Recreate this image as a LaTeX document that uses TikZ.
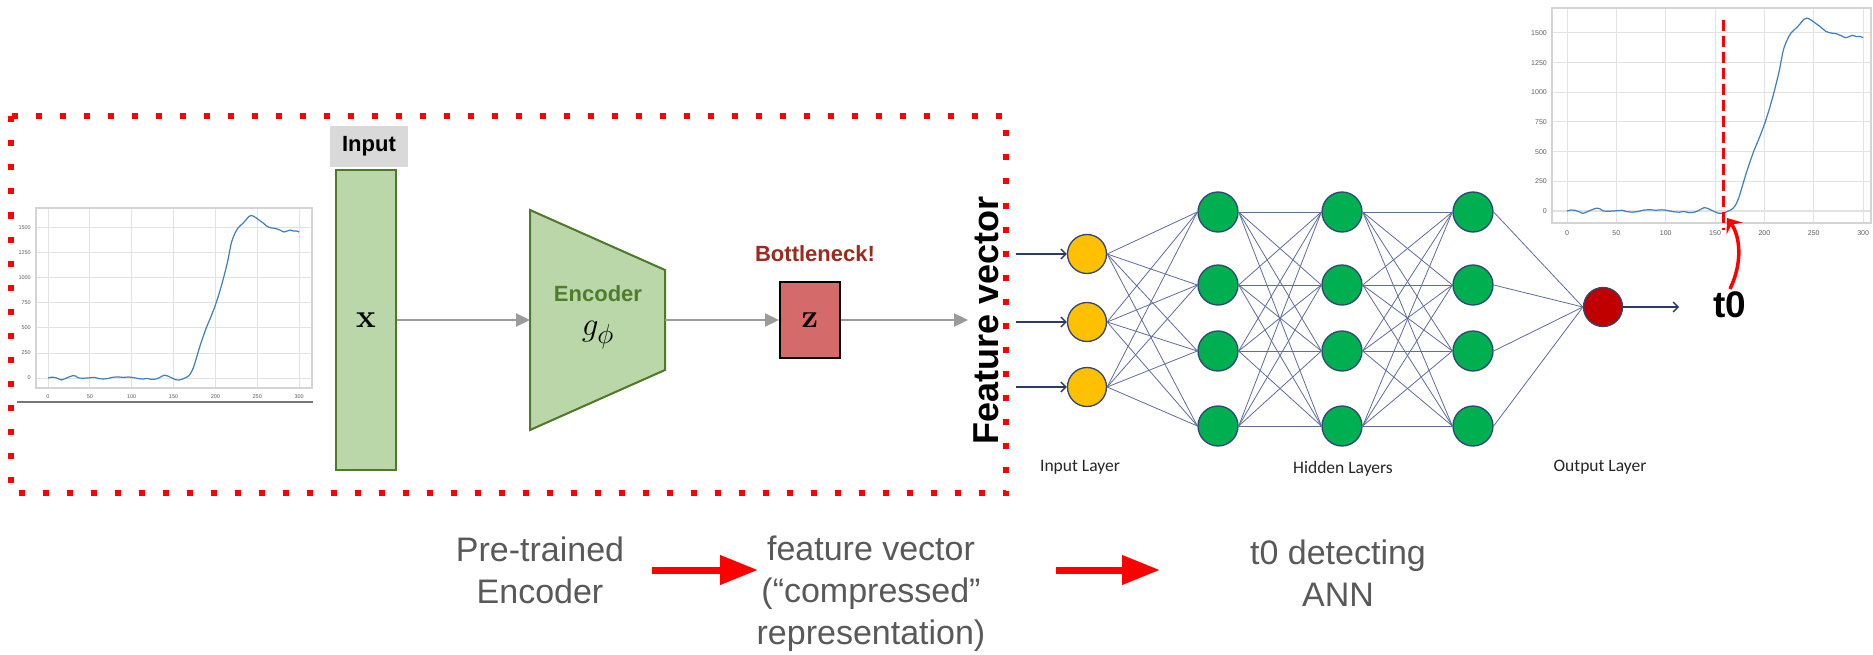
\documentclass[tikz,border=0pt]{standalone}
\usepackage{graphicx}
\usepackage[no-math]{fontspec}
\setmainfont{Liberation Sans}
\newfontfamily\layerfont{Carlito}
\usetikzlibrary{arrows.meta}

\definecolor{boxgreen}{HTML}{B9D7A8}
\definecolor{edgegreen}{HTML}{4E7A2A}
\definecolor{enctext}{HTML}{507D2A}
\definecolor{zred}{HTML}{D46A6A}
\definecolor{bneck}{HTML}{9E2A1F}
\definecolor{flowgray}{HTML}{9B9B9B}
\definecolor{labelgray}{HTML}{D9D9D9}
\definecolor{dotred}{HTML}{FF0000}
\definecolor{nnyellow}{HTML}{FFC000}
\definecolor{nngreen}{HTML}{00B050}
\definecolor{nnred}{HTML}{C00000}
\definecolor{nnedge}{HTML}{2F4677}
\definecolor{synapse}{HTML}{5E6D9B}
\definecolor{nnarrow}{HTML}{2B3A6B}
\definecolor{sigblue}{HTML}{3C80BC}
\definecolor{gridgray}{HTML}{E2E2E2}
\definecolor{framegray}{HTML}{D4D4D4}
\definecolor{ticktext}{HTML}{606060}
\definecolor{captiongray}{HTML}{595959}
\definecolor{basegray}{HTML}{777777}

% large math symbols: typeset at the biggest CM size, then scaled
\newcommand{\bigmath}[1]{\scalebox{1.33}{\fontsize{24.88}{28}\selectfont$#1$}}

\begin{document}
\begin{tikzpicture}[x=1pt,y=-1pt,
  reddots/.style={draw=dotred, line width=6pt, dash pattern=on 6pt off 18pt},
  flow/.style={draw=flowgray, line width=2.2pt, -{Triangle[length=14pt,width=13pt]}},
  stagearrow/.style={draw=dotred, line width=7pt, -{Triangle[length=38pt,width=28pt]}},
  greenbox/.style={fill=boxgreen, draw=edgegreen, line width=2pt},
  neuron/.style={circle, draw=nnedge, line width=1.3pt, minimum size=39pt, inner sep=0pt},
  link/.style={draw=synapse, line width=0.8pt},
  feed/.style={draw=nnarrow, line width=1.4pt, -{Straight Barb[length=5pt,width=10pt]}},
  gline/.style={draw=gridgray, line width=1pt},
  pframe/.style={draw=framegray, line width=1.2pt},
  sig/.style={draw=sigblue, line width=1.2pt},
  tickL/.style={font=\fontsize{5.5}{6}\selectfont, text=ticktext, inner sep=0pt},
  tickR/.style={font=\fontsize{7}{8}\selectfont, text=ticktext, inner sep=0pt},
  caption/.style={font=\fontsize{34}{42}\selectfont, text=captiongray, align=center, inner sep=0pt},
  layerlab/.style={font=\layerfont\fontsize{17.5}{20}\selectfont, text=black!85, inner sep=0pt},
  boldlab/.style={font=\fontsize{22}{26}\selectfont\bfseries, inner sep=0pt},
  t0line/.style={draw=dotred, line width=3pt, dash pattern=on 11pt off 5pt},
  onsetarrow/.style={draw=dotred, line width=3.5pt, -{Stealth[length=13pt,width=20pt,inset=5pt]}}
]
\useasboundingbox[fill=white] (0,0) rectangle (1873,655);

% ---------- small signal plot (left) ----------
\foreach \t in {0,50,...,300} {
  \draw[gline] ({48+0.837*\t},208) -- ({48+0.837*\t},388);
  \node[tickL] (lx\t) at ({48+0.837*\t},397) {\t};
}
\foreach \v in {0,250,...,1500} {
  \draw[gline] (36,{378-0.1*\v}) -- (312,{378-0.1*\v});
  \node[tickL, anchor=east] (ly\v) at (31,{378-0.1*\v}) {\v};
}
\draw[pframe] (36,208) rectangle (312,388);
\begin{scope}[shift={(48,378)}, xscale=0.837, yscale=-0.1]
\draw[sig] plot[smooth, tension=0.5] coordinates {
 (0,0) (4,8) (8,6) (12,-5) (16,-20) (20,-8) (25,10) (30,24) (33,20) (36,2)
 (42,-2) (50,2) (56,6) (60,-4) (66,-10) (72,-4) (78,8) (85,10) (90,6) (96,10)
 (102,4) (108,-6) (114,-10) (118,-4) (124,-14) (130,-8) (135,12) (139,28) (143,20)
 (148,0) (153,-18) (157,-20) (162,-6) (166,10) (170,40) (174,110) (178,220)
 (182,330) (186,430) (190,520) (195,620) (200,730) (205,860) (210,1010) (215,1180)
 (219,1350) (223,1440) (227,1500) (232,1540) (236,1575) (240,1615) (243,1625)
 (247,1610) (252,1580) (257,1550) (262,1515) (267,1500) (272,1495) (277,1480)
 (282,1460) (286,1470) (289,1480) (293,1470) (297,1470) (300,1460)};
\end{scope}
\draw[draw=basegray, line width=1.5pt] (17,402) -- (313,402);

% ---------- encoder block ----------
\node[fill=labelgray, minimum width=78pt, minimum height=41pt, boldlab] (inlab) at (369,146.5) {Input};
\node[greenbox, minimum width=60pt, minimum height=300pt, inner sep=0pt] (xin) at (366,320)
  {\bigmath{\mathbf{x}}};
\draw[greenbox, line join=miter] (530,210) -- (665,270) -- (665,370) -- (530,430) -- cycle;
\coordinate (encW) at (530,320);
\coordinate (encE) at (665,320);
\node[boldlab, text=enctext] (enc) at (598,294) {Encoder};
\node[inner sep=0pt] (gphi) at (598,335) {\bigmath{g_\phi}};
\node[boldlab, text=bneck] (bn) at (815,254) {Bottleneck!};
\node[fill=zred, draw=black, line width=2pt, minimum width=60pt, minimum height=76pt, inner sep=0pt] (z) at (810,320)
  {\bigmath{\mathbf{z}}};
\node[rotate=90, anchor=base, font=\fontsize{36}{40}\selectfont\bfseries, inner sep=5pt] (fv) at (998,320) {Feature vector};

\draw[flow] (xin.east) -- (encW);
\draw[flow] (encE) -- (z.west);
\draw[flow] (z.east) -- (fv.north);

\draw[reddots] (11,116.5) rectangle (1006,493);

% ---------- feed-forward network ----------
\node[neuron, fill=nnyellow] (i1) at (1087,254) {};
\node[neuron, fill=nnyellow] (i2) at (1087,322) {};
\node[neuron, fill=nnyellow] (i3) at (1087,387) {};
\foreach \c/\x in {1/1218, 2/1342, 3/1473}
  \foreach \r/\y in {1/212, 2/285, 3/351, 4/426}
    \node[neuron, minimum size=40pt, fill=nngreen] (h\c\r) at (\x,\y) {};
\node[neuron, fill=nnred] (out) at (1603,307) {};

\foreach \a in {1,2,3}
  \foreach \b in {1,...,4}
    \draw[link] (i\a.east) -- (h1\b.west);
\foreach \a in {1,...,4}
  \foreach \b in {1,...,4} {
    \draw[link] (h1\a.east) -- (h2\b.west);
    \draw[link] (h2\a.east) -- (h3\b.west);
  }
\foreach \a in {1,...,4}
  \draw[link] (h3\a.east) -- (out.west);

\foreach \k/\y in {1/254, 2/322, 3/387} {
  \coordinate (src\k) at (1016,\y);
  \draw[feed] (src\k) -- (i\k.west);
}
\coordinate (res) at (1679,307);
\draw[feed] (out.east) -- (res);

\node[layerlab] (lin) at (1080,467) {Input Layer};
\node[layerlab] (lhid) at (1343,469) {Hidden Layers};
\node[layerlab] (lout) at (1600,467) {Output Layer};

% ---------- annotated signal plot (right) ----------
\foreach \t in {0,50,...,300} {
  \draw[gline] ({1567+0.987*\t},8) -- ({1567+0.987*\t},223);
  \node[tickR] (rx\t) at ({1567+0.987*\t},233) {\t};
}
\foreach \v in {0,250,...,1500} {
  \draw[gline] (1552,{211-0.1187*\v}) -- (1871,{211-0.1187*\v});
  \node[tickR, anchor=east] (ry\v) at (1547,{211-0.1187*\v}) {\v};
}
\draw[pframe] (1552,8) rectangle (1871,223);
\begin{scope}[shift={(1567,211)}, xscale=0.987, yscale=-0.1187]
\draw[sig] plot[smooth, tension=0.5] coordinates {
 (0,0) (4,8) (8,6) (12,-5) (16,-20) (20,-8) (25,10) (30,24) (33,20) (36,2)
 (42,-2) (50,2) (56,6) (60,-4) (66,-10) (72,-4) (78,8) (85,10) (90,6) (96,10)
 (102,4) (108,-6) (114,-10) (118,-4) (124,-14) (130,-8) (135,12) (139,28) (143,20)
 (148,0) (153,-18) (157,-20) (162,-6) (166,10) (170,40) (174,110) (178,220)
 (182,330) (186,430) (190,520) (195,620) (200,730) (205,860) (210,1010) (215,1180)
 (219,1350) (223,1440) (227,1500) (232,1540) (236,1575) (240,1615) (243,1625)
 (247,1610) (252,1580) (257,1550) (262,1515) (267,1500) (272,1495) (277,1480)
 (282,1460) (286,1470) (289,1480) (293,1470) (297,1470) (300,1460)};
\end{scope}
\draw[t0line] (1723,20) -- (1723,230);

\node[font=\fontsize{37}{40}\selectfont\bfseries, anchor=base, inner sep=2pt] (t0) at (1730,317) {t0};
\coordinate (onset) at (1727,218);
\draw[onsetarrow] (t0.north) .. controls (1743,262) and (1740,236) .. (onset);

% ---------- pipeline captions ----------
\node[caption] (pre) at (540,570.5) {Pre-trained\\Encoder};
\node[caption] (fvt) at (871,594) {feature vector\\(“compressed”\\representation)};
\node[caption] (ann) at (1338,573) {t0 detecting\\ANN};
\coordinate (s1a) at (652,570);
\coordinate (s1b) at (758,570);
\coordinate (s2a) at (1056,570);
\coordinate (s2b) at (1160,570);
\draw[stagearrow] (s1a) -- (s1b);
\draw[stagearrow] (s2a) -- (s2b);
\end{tikzpicture}
\end{document}
